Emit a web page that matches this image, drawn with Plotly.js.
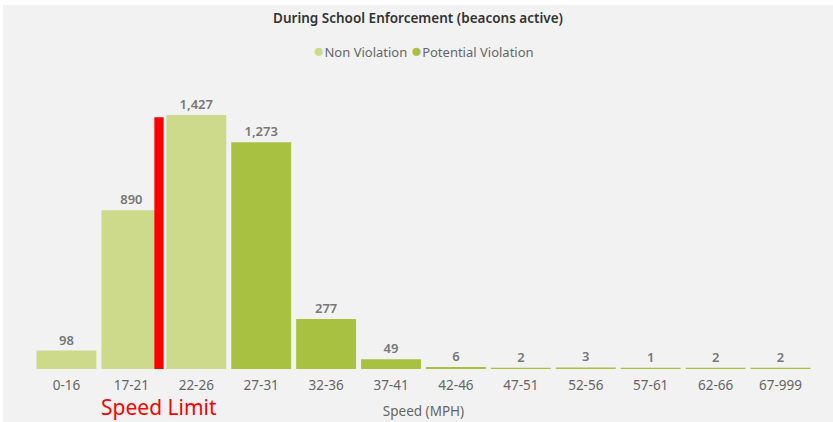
<!DOCTYPE html>
<html>
<head>
<meta charset="utf-8">
<script src="https://cdn.plot.ly/plotly-3.0.1.min.js"></script>
<style>
html,body{margin:0;padding:0;background:#ffffff;}
#chart{position:absolute;left:3px;top:5px;width:830px;height:417px;}
</style>
</head>
<body>
<div id="chart"></div>
<script>
const categories = ["0-16","17-21","22-26","27-31","32-36","37-41","42-46","47-51","52-56","57-61","62-66","67-999"];
const nonViolation = [98, 890, 1427, null, null, null, null, null, null, null, null, null];
const potentialViolation = [null, null, null, 1273, 277, 49, 6, 2, 3, 1, 2, 2];
const seriesNames = ["Non Violation", "Potential Violation"];
const speedLimitTop = 1420;

const lightGreen = "#cdda8c";
const darkGreen = "#a9c140";
const labelFont = {family: "Noto Sans, sans-serif", size: 13, color: "#777777", weight: 600};

const traces = [
  {type: "bar", x: categories, y: nonViolation, name: seriesNames[0], showlegend: false,
   marker: {color: lightGreen, line: {color: lightGreen, width: 2}},
   texttemplate: "%{y:,}", textposition: "outside", textfont: labelFont, cliponaxis: false, hoverinfo: "x+y"},
  {type: "bar", x: categories, y: potentialViolation, name: seriesNames[1], showlegend: false,
   marker: {color: darkGreen, line: {color: darkGreen, width: 2}},
   texttemplate: "%{y:,}", textposition: "outside", textfont: labelFont, cliponaxis: false, hoverinfo: "x+y"}
];

const legendText =
  "<span style='color:" + lightGreen + ";font-size:19px'>●</span>" + seriesNames[0] + " " +
  "<span style='color:" + darkGreen + ";font-size:19px'>●</span>" + seriesNames[1];

const layout = {
  width: 830, height: 417,
  paper_bgcolor: "#f2f2f2", plot_bgcolor: "#f2f2f2",
  margin: {l: 30.5, r: 19.5, t: 75, b: 53},
  barmode: "overlay", bargap: 0.108,
  title: {text: "During School Enforcement (beacons active)", x: 0.5, xanchor: "center",
          y: 1 - 13/417, yref: "container", yanchor: "middle",
          font: {family: "Noto Sans, sans-serif", size: 13.5, color: "#333333", weight: 600}},
  showlegend: false,
  xaxis: {type: "category", showgrid: false, zeroline: false, showline: false, ticks: "",
          ticklabelstandoff: 6,
          tickfont: {family: "Noto Sans, sans-serif", size: 13.5, color: "#666666"},
          title: {text: "Speed (MPH)", standoff: 14, font: {family: "Noto Sans, sans-serif", size: 13.5, color: "#666666"}}},
  yaxis: {visible: false, range: [0, 1630], showgrid: false, zeroline: false},
  shapes: [
    {type: "rect", xref: "x", yref: "y", x0: 1.354, x1: 1.497, y0: 0, y1: speedLimitTop,
     fillcolor: "#ff0000", line: {width: 0}, layer: "above"}
  ],
  annotations: [
    {text: legendText, xref: "paper", yref: "paper", x: 0.5, y: 1, yshift: 30, xanchor: "center", yanchor: "middle",
     showarrow: false, font: {family: "Noto Sans, sans-serif", size: 13, color: "#666666"}},
    {text: "Speed Limit", xref: "x", yref: "paper", x: 1.42, y: 0, yshift: -38, yanchor: "middle",
     showarrow: false, font: {family: "Noto Sans, sans-serif", size: 21, color: "#ff0000"}}
  ]
};

Plotly.newPlot("chart", traces, layout, {displayModeBar: false, staticPlot: true});
</script>
</body>
</html>
